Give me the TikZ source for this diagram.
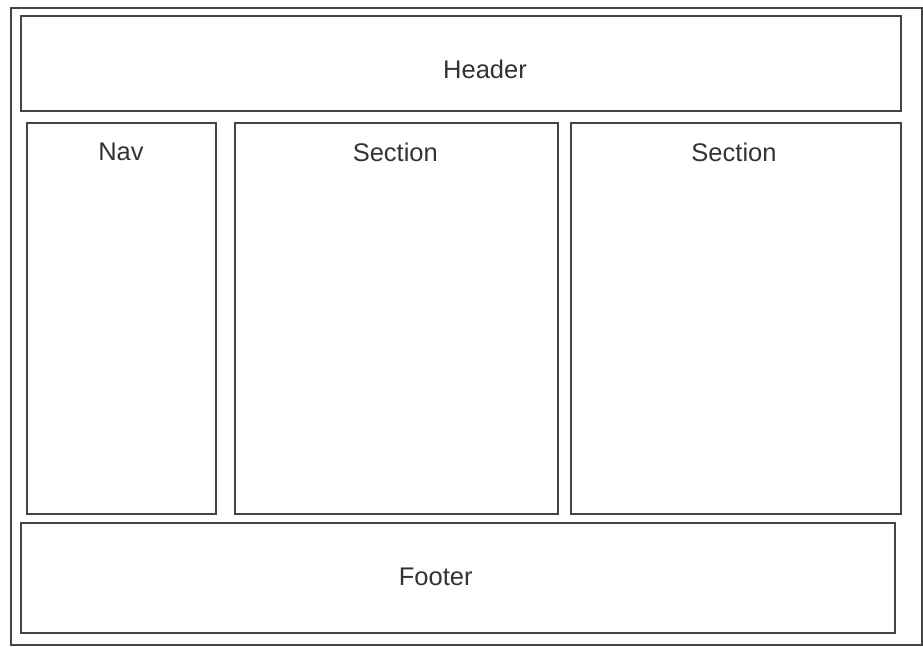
\documentclass[tikz,border=0pt]{standalone}
\usepackage{fontspec}
\setmainfont{Liberation Sans}
\definecolor{linegray}{HTML}{444444}
\definecolor{textgray}{HTML}{333333}
\begin{document}
\begin{tikzpicture}[x=1pt,y=-1pt,
  box/.style={draw=linegray,line width=2pt},
  lbl/.style={anchor=base,text=textgray,inner sep=0pt,font=\fontsize{25.5}{30}\selectfont}]
\useasboundingbox[fill=white] (0,0) rectangle (923,646);
\draw[box] (11,8) rectangle (921.5,645);
\draw[box] (21,16) rectangle (901,111);
\draw[box] (27,123) rectangle (216,514);
\draw[box] (235,123) rectangle (558,514);
\draw[box] (571,123) rectangle (901,514);
\draw[box] (21,523) rectangle (895,633);
\node[lbl] (header) at (485,78.3) {Header};
\node[lbl] (nav) at (121,160.7) {Nav};
\node[lbl] (sec1) at (395.3,161) {Section};
\node[lbl] (sec2) at (734,161) {Section};
\node[lbl] (footer) at (435.7,585) {Footer};
\end{tikzpicture}
\end{document}
